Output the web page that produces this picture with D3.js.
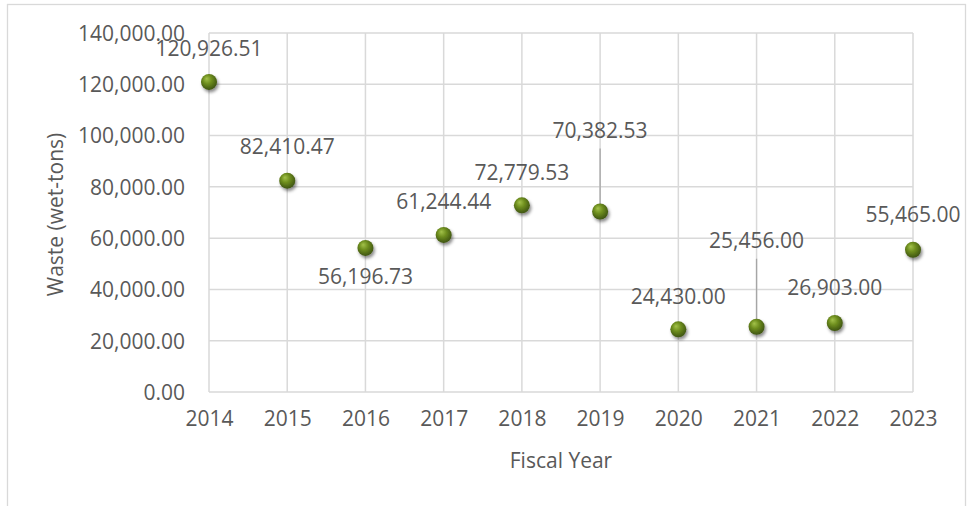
<!DOCTYPE html>
<html>
<head>
<meta charset="utf-8">
<script src="https://cdn.jsdelivr.net/npm/d3@7"></script>
<style>
  body { margin: 0; background: #fff; }
  text { font-family: "Open Sans", sans-serif; fill: #595959; }
</style>
</head>
<body>
<div id="chart"></div>
<script>
const years = [2014, 2015, 2016, 2017, 2018, 2019, 2020, 2021, 2022, 2023];
const waste = [120926.51, 82410.47, 56196.73, 61244.44, 72779.53, 70382.53, 24430.00, 25456.00, 26903.00, 55465.00];
const yTicks = [0, 20000, 40000, 60000, 80000, 100000, 120000, 140000];

// label placement (px from the point, centre of text)
const labelDy = [-33, -34, 29, -33, -33, -81, -33, -86, -35, -35];
const leader = [false, false, false, false, false, true, false, true, false, false];

const W = 969, H = 506;
const margin = { top: 33, right: 55, bottom: 114, left: 209 };

const svg = d3.select('#chart')
  .append('svg')
  .attr('width', W)
  .attr('height', H);

const defs = svg.append('defs');
const grad = defs.append('radialGradient')
  .attr('id', 'ball')
  .attr('cx', '45%').attr('cy', '40%').attr('r', '60%')
  .attr('fx', '35%').attr('fy', '30%');
grad.append('stop').attr('offset', '0%').attr('stop-color', '#a3c24a');
grad.append('stop').attr('offset', '45%').attr('stop-color', '#6f8f1f');
grad.append('stop').attr('offset', '100%').attr('stop-color', '#3e5410');

const shadow = defs.append('filter')
  .attr('id', 'shadow')
  .attr('x', '-50%').attr('y', '-50%').attr('width', '200%').attr('height', '200%');
shadow.append('feDropShadow')
  .attr('dx', 1.5).attr('dy', 2.5)
  .attr('stdDeviation', 1.6)
  .attr('flood-color', '#000')
  .attr('flood-opacity', 0.45);

// chart border
svg.append('rect')
  .attr('x', 7.5).attr('y', 4.5)
  .attr('width', 958).attr('height', 540)
  .attr('fill', 'none')
  .attr('stroke', '#d9d9d9')
  .attr('stroke-width', 1.3);

const x = d3.scaleLinear()
  .domain([2014, 2023])
  .range([margin.left, W - margin.right - 1]);

const y = d3.scaleLinear()
  .domain([0, 140000])
  .range([H - margin.bottom, margin.top]);

// gridlines
svg.append('g')
  .selectAll('line')
  .data(yTicks)
  .join('line')
  .attr('x1', x(2014)).attr('x2', x(2023))
  .attr('y1', d => y(d)).attr('y2', d => y(d))
  .attr('stroke', '#d9d9d9')
  .attr('stroke-width', 1.5);

svg.append('g')
  .selectAll('line')
  .data(years)
  .join('line')
  .attr('x1', d => x(d)).attr('x2', d => x(d))
  .attr('y1', y(0)).attr('y2', y(140000))
  .attr('stroke', '#d9d9d9')
  .attr('stroke-width', 1.5);

// axes
const fmt = d3.format(',.2f');

const gY = svg.append('g')
  .attr('transform', `translate(${margin.left - 24}, 0)`)
  .call(d3.axisLeft(y).tickValues(yTicks).tickFormat(fmt).tickSize(0).tickPadding(0));
gY.select('.domain').remove();
gY.selectAll('text').style('font-size', '21px').attr('dy', '0.35em');

const gX = svg.append('g')
  .attr('transform', `translate(0, ${y(0)})`)
  .call(d3.axisBottom(x).tickValues(years).tickFormat(d3.format('d')).tickSize(0).tickPadding(19));
gX.select('.domain').remove();
gX.selectAll('text').style('font-size', '21px');

// axis titles
svg.append('text')
  .attr('transform', `translate(56, ${(y(0) + y(140000)) / 2 + 2}) rotate(-90)`)
  .attr('text-anchor', 'middle')
  .attr('dy', '0.35em')
  .style('font-size', '21px')
  .text('Waste (wet-tons)');

svg.append('text')
  .attr('x', (x(2014) + x(2023)) / 2)
  .attr('y', 461)
  .attr('text-anchor', 'middle')
  .attr('dy', '0.35em')
  .style('font-size', '21px')
  .text('Fiscal Year');

const pts = years.map((yr, i) => ({ yr, v: waste[i], dy: labelDy[i], leader: leader[i] }));

// leader lines
svg.append('g')
  .selectAll('line')
  .data(pts.filter(d => d.leader))
  .join('line')
  .attr('x1', d => x(d.yr)).attr('x2', d => x(d.yr))
  .attr('y1', d => y(d.v) + d.dy + 18)
  .attr('y2', d => y(d.v))
  .attr('stroke', '#a6a6a6')
  .attr('stroke-width', 1.3);

// markers
svg.append('g')
  .selectAll('circle')
  .data(pts)
  .join('circle')
  .attr('cx', d => x(d.yr))
  .attr('cy', d => y(d.v))
  .attr('r', 8)
  .attr('fill', 'url(#ball)')
  .attr('filter', 'url(#shadow)');

// data labels
svg.append('g')
  .selectAll('text')
  .data(pts)
  .join('text')
  .attr('x', d => x(d.yr))
  .attr('y', d => y(d.v) + d.dy)
  .attr('text-anchor', 'middle')
  .attr('dy', '0.35em')
  .style('font-size', '21px')
  .text(d => fmt(d.v));
</script>
</body>
</html>
